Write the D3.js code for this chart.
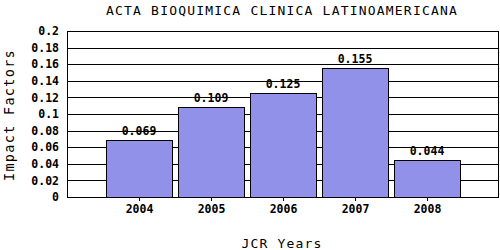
<!DOCTYPE html>
<html>
<head>
<meta charset="utf-8">
<script src="https://cdn.jsdelivr.net/npm/d3@7"></script>
<style>
  body { margin: 0; background: #fff; }
  text { font-family: "DejaVu Sans Mono", monospace; }
</style>
</head>
<body>
<div id="chart"></div>
<script>
// chart data
const years = ['2004', '2005', '2006', '2007', '2008'];
const impactFactors = [0.069, 0.109, 0.125, 0.155, 0.044];
const yTicks = [0, 0.02, 0.04, 0.06, 0.08, 0.1, 0.12, 0.14, 0.16, 0.18, 0.2];
const yTickLabels = ['0', '0.02', '0.04', '0.06', '0.08', '0.1', '0.12', '0.14', '0.16', '0.18', '0.2'];
const title = 'ACTA BIOQUIMICA CLINICA LATINOAMERICANA';

const width = 500;
const height = 250;
const margin = {top: 31, right: 1, bottom: 53, left: 67};
const innerW = width - margin.left - margin.right;
const innerH = height - margin.top - margin.bottom;

const svg = d3.select('#chart')
  .append('svg')
    .attr('width', width)
    .attr('height', height);

// an empty slot on each side of the years
const xc = d3.scalePoint()
  .domain(['', ...years, ' '])
  .range([0, innerW]);

const y = d3.scaleLinear()
  .domain([0, 0.2])
  .range([innerH, 0]);

const g = svg.append('g')
  .attr('transform', `translate(${margin.left},${margin.top})`);

// gridlines
g.selectAll('.grid')
  .data(yTicks)
  .enter().append('line')
    .attr('class', 'grid')
    .attr('x1', 0)
    .attr('x2', innerW)
    .attr('y1', d => Math.round(y(d)) + 0.5)
    .attr('y2', d => Math.round(y(d)) + 0.5)
    .attr('stroke', '#000')
    .attr('stroke-width', 1);

// bars
const barW = 66;
g.selectAll('.bar')
  .data(impactFactors)
  .enter().append('rect')
    .attr('class', 'bar')
    .attr('x', (d, i) => Math.round(xc(years[i]) - barW / 2) + 0.5)
    .attr('y', d => Math.round(y(d)) + 0.5)
    .attr('width', barW)
    .attr('height', d => innerH - Math.round(y(d)))
    .attr('fill', '#9191e9')
    .attr('stroke', '#000')
    .attr('stroke-width', 1);

// bar value labels
g.selectAll('.val')
  .data(impactFactors)
  .enter().append('text')
    .attr('class', 'val')
    .attr('x', (d, i) => xc(years[i]))
    .attr('y', d => y(d) - 5)
    .attr('text-anchor', 'middle')
    .attr('font-size', '11.5px')
    .attr('font-weight', 'bold')
    .attr('fill', '#000')
    .text(d => d3.format('.3f')(d));

// frame / axes
g.append('line')
  .attr('x1', 0.5).attr('x2', 0.5)
  .attr('y1', 0).attr('y2', innerH)
  .attr('stroke', '#000');
g.append('line')
  .attr('x1', innerW - 0.5).attr('x2', innerW - 0.5)
  .attr('y1', 0).attr('y2', innerH)
  .attr('stroke', '#000');

const xAxis = d3.axisBottom(xc)
  .tickValues(years)
  .tickSize(4)
  .tickSizeOuter(0)
  .tickPadding(4);

const xg = g.append('g')
  .attr('transform', `translate(0,${innerH})`)
  .call(xAxis);
xg.select('.domain').remove();
xg.selectAll('text')
  .attr('font-size', '11.5px')
  .attr('font-weight', 'bold')
  .attr('font-family', '"DejaVu Sans Mono", monospace')
  .attr('fill', '#000');

const yAxis = d3.axisLeft(y)
  .tickValues(yTicks)
  .tickFormat((d, i) => yTickLabels[i])
  .tickSize(0)
  .tickPadding(8);

const yg = g.append('g').call(yAxis);
yg.select('.domain').remove();
yg.selectAll('text')
  .attr('font-size', '11.5px')
  .attr('font-weight', 'bold')
  .attr('font-family', '"DejaVu Sans Mono", monospace')
  .attr('fill', '#000');

// title
svg.append('text')
  .attr('x', 282)
  .attr('y', 15)
  .attr('text-anchor', 'middle')
  .attr('font-size', '13px')
  .attr('letter-spacing', '1.2px')
  .attr('fill', '#000')
  .text(title);

// axis titles
svg.append('text')
  .attr('x', 282)
  .attr('y', 247.5)
  .attr('text-anchor', 'middle')
  .attr('font-size', '13px')
  .attr('letter-spacing', '1.2px')
  .attr('fill', '#000')
  .text('JCR Years');

svg.append('text')
  .attr('transform', 'translate(13.5,115) rotate(-90)')
  .attr('text-anchor', 'middle')
  .attr('font-size', '13.5px')
  .attr('letter-spacing', '1.3px')
  .attr('fill', '#000')
  .text('Impact Factors');
</script>
</body>
</html>
